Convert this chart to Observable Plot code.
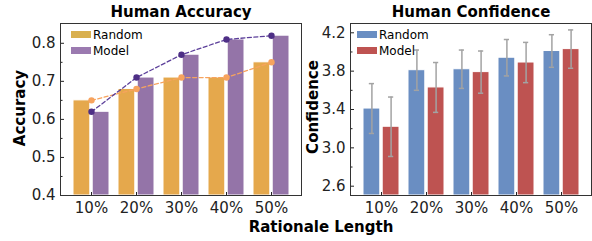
<!DOCTYPE html>
<html>
<head>
<meta charset="utf-8">
<script src="https://cdn.jsdelivr.net/npm/d3@7"></script>
<script src="https://cdn.jsdelivr.net/npm/@observablehq/plot@0.6"></script>
<style>
  body { margin: 0; background: #fff; font-family: "DejaVu Sans", sans-serif; }
  #wrap { position: relative; width: 592px; height: 241px; overflow: hidden; }
  #wrap svg { position: absolute; top: 0; overflow: visible; }
  .title { position: absolute; font-weight: bold; font-size: 15px; line-height: 16px; white-space: nowrap; transform: translateX(-50%); }
  .ylab { position: absolute; font-weight: bold; font-size: 15px; line-height: 16px; white-space: nowrap; transform: translate(-50%, -50%) rotate(-90deg); }
  .leg { position: absolute; font-size: 12px; white-space: nowrap; line-height: 14px; }
  .sw { display: inline-block; width: 20px; height: 7px; vertical-align: middle; margin-right: 2px; position: relative; top: -1px; }
</style>
</head>
<body>
<div id="wrap"></div>
<script>
const categories = ["10%", "20%", "30%", "40%", "50%"];
const series = ["Random", "Model"];
const accRandom = [0.65, 0.68, 0.71, 0.71, 0.75];
const accModel = [0.62, 0.71, 0.77, 0.81, 0.82];
const confRandom = [3.41, 3.81, 3.82, 3.94, 4.01];
const confModel = [3.22, 3.63, 3.79, 3.89, 4.03];
const confRandomErr = [0.26, 0.21, 0.20, 0.19, 0.17];
const confModelErr = [0.31, 0.26, 0.22, 0.21, 0.20];
const accTicks = [0.4, 0.5, 0.6, 0.7, 0.8];
const accMinor = [0.45, 0.55, 0.65, 0.75];
const confTicks = [2.6, 3.0, 3.4, 3.8, 4.2];
const confMinor = [2.8, 3.2, 3.6, 4.0];

const wrap = document.getElementById("wrap");
const xOpts = {domain: categories, paddingInner: 0.21, paddingOuter: 0.252};
const HALF = 19.2; // inset to split each band into two bars

const accRows = categories.map((c, i) => ({cat: c, random: accRandom[i], model: accModel[i]}));
const confRows = categories.map((c, i) => ({
  cat: c, random: confRandom[i], model: confModel[i], re: confRandomErr[i], me: confModelErr[i]
}));

function axes(ticks, minor) {
  return [
    Plot.axisY({ticks, tickSize: 0, tickPadding: 5, tickFormat: d => d.toFixed(1), label: null, fontSize: 15, fill: "#222"}),
    Plot.axisY({ticks, tickSize: -4, tickFormat: () => "", label: null, stroke: "#222"}),
    Plot.axisY({ticks: minor, tickSize: -2.5, tickFormat: () => "", label: null, stroke: "#222"}),
    Plot.axisX({tickSize: 0, tickPadding: 7, label: null, fontSize: 15, fill: "#222"}),
    Plot.axisX({tickSize: -3, tickFormat: () => "", label: null, stroke: "#222"})
  ];
}

const left = Plot.plot({
  width: 304, height: 241,
  marginLeft: 60, marginRight: 3, marginTop: 23, marginBottom: 46,
  style: {fontFamily: "DejaVu Sans", fontSize: "15px", background: "transparent", overflow: "visible"},
  x: {...xOpts, axis: null},
  y: {domain: [0.4, 0.852], axis: null},
  marks: [
    Plot.barY(accRows, {x: "cat", y1: 0.4, y2: "random", fill: "#E5A84C", stroke: "white", strokeWidth: 1, insetRight: HALF}),
    Plot.barY(accRows, {x: "cat", y1: 0.4, y2: "model", fill: "#9474A8", stroke: "white", strokeWidth: 1, insetLeft: HALF}),
    Plot.line(accRows, {x: "cat", y: "random", stroke: "#F7A35E", strokeWidth: 1.3, strokeDasharray: "4,2.5"}),
    Plot.dot(accRows, {x: "cat", y: "random", fill: "#F7A35E", r: 3.2}),
    Plot.line(accRows, {x: "cat", y: "model", stroke: "#5C3F9A", strokeWidth: 1.3, strokeDasharray: "4,2.5"}),
    Plot.dot(accRows, {x: "cat", y: "model", fill: "#4E2F86", r: 3.2}),
    ...axes(accTicks, accMinor),
    Plot.frame({stroke: "#333", strokeWidth: 1})
  ]
});
left.style.left = "0px";
wrap.appendChild(left);

const right = Plot.plot({
  width: 292, height: 241,
  marginLeft: 50, marginRight: 1, marginTop: 23, marginBottom: 46,
  style: {fontFamily: "DejaVu Sans", fontSize: "15px", background: "transparent", overflow: "visible"},
  x: {...xOpts, axis: null},
  y: {domain: [2.503, 4.297], axis: null},
  marks: [
    Plot.barY(confRows, {x: "cat", y1: 2.503, y2: "random", fill: "#6A8EC2", stroke: "white", strokeWidth: 1, insetRight: HALF}),
    Plot.barY(confRows, {x: "cat", y1: 2.503, y2: "model", fill: "#BE5351", stroke: "white", strokeWidth: 1, insetLeft: HALF}),
    Plot.ruleX(confRows, {x: "cat", y1: d => d.random - d.re, y2: d => d.random + d.re, dx: -9.6, stroke: "#A3A3A3", strokeWidth: 1.5}),
    Plot.ruleX(confRows, {x: "cat", y1: d => d.model - d.me, y2: d => d.model + d.me, dx: 9.6, stroke: "#A3A3A3", strokeWidth: 1.5}),
    Plot.tickY(confRows, {x: "cat", y: d => d.random + d.re, insetLeft: 5.8, insetRight: 25, stroke: "#A3A3A3", strokeWidth: 1.5}),
    Plot.tickY(confRows, {x: "cat", y: d => d.random - d.re, insetLeft: 5.8, insetRight: 25, stroke: "#A3A3A3", strokeWidth: 1.5}),
    Plot.tickY(confRows, {x: "cat", y: d => d.model + d.me, insetLeft: 25, insetRight: 5.8, stroke: "#A3A3A3", strokeWidth: 1.5}),
    Plot.tickY(confRows, {x: "cat", y: d => d.model - d.me, insetLeft: 25, insetRight: 5.8, stroke: "#A3A3A3", strokeWidth: 1.5}),
    ...axes(confTicks, confMinor),
    Plot.frame({stroke: "#333", strokeWidth: 1})
  ]
});
right.style.left = "300px";
wrap.appendChild(right);

function addDiv(cls, html, x, y) {
  const d = document.createElement("div");
  d.className = cls; d.innerHTML = html;
  d.style.left = x + "px"; d.style.top = y + "px";
  wrap.appendChild(d);
  return d;
}
addDiv("title", "Human Accuracy", 181, 4);
addDiv("title", "Human Confidence", 471, 4);
addDiv("ylab", "Accuracy", 20, 108);
addDiv("ylab", "Confidence", 313, 107);
addDiv("title", "Rationale Length", 321, 219);

const legColorsL = ["#D9B04F", "#9B7AB0"];
const legColorsR = ["#6A8EC2", "#BE5351"];
series.forEach((s, i) => {
  addDiv("leg", `<span class="sw" style="background:${legColorsL[i]}"></span>${s}`, 71, 28 + i * 15.5);
  addDiv("leg", `<span class="sw" style="background:${legColorsR[i]}"></span>${s}`, 357, 28 + i * 15.5);
});
</script>
</body>
</html>
